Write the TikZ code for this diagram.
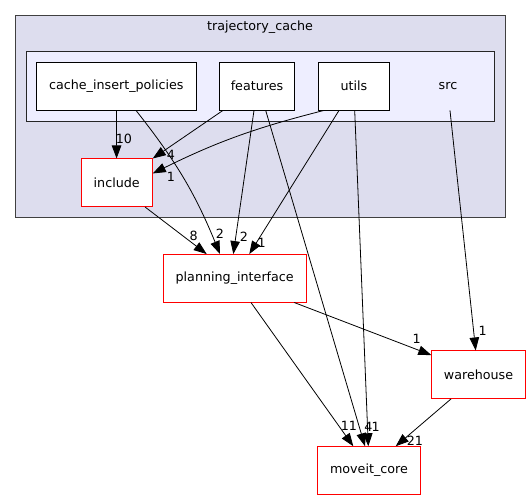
\documentclass[tikz,border=0pt]{standalone}
\usepackage{fontspec}
\setmainfont{DejaVu Sans}
\usetikzlibrary{arrows.meta,positioning}
\definecolor{clusterbg}{HTML}{DDDDEE}
\definecolor{srcbg}{HTML}{EEEEFF}

\begin{document}
\begin{tikzpicture}[x=1pt, y=-1pt, line width=0.8pt, >={Triangle[length=13pt,width=9.5pt]},
  dir node/.style={rectangle,draw=black,fill=white,minimum height=47.7pt,inner sep=0pt},
  ext node/.style={dir node,draw=red},
  num/.style={inner sep=0pt}]
\useasboundingbox (0,0) rectangle (531,500);
\begin{scope}[every node/.style={font=\fontsize{12.7}{15}\selectfont}]
% clusters
\draw[draw=black!75, fill=clusterbg] (15,15.7) rectangle (505.3,217);
\node (title) at (260,27) {trajectory\_cache};
\draw[draw=black!85, fill=srcbg] (26,51.7) rectangle (494.7,121.3);
\node[minimum height=47.7pt,minimum width=60pt] (src) at (448,86.2) {src};
% directories
\node[dir node,minimum width=159.3pt] (cip) at (116.3,86.2) {cache\_insert\_policies};
\node[dir node,minimum width=75.4pt] (features) at (257,86.2) {features};
\node[dir node,minimum width=71.4pt] (utils) at (354,86.2) {utils};
\node[ext node,minimum width=71.3pt] (include) at (116.7,182.7) {include};
\node[ext node,minimum width=142.7pt] (pi) at (234.7,278.3) {planning\_interface};
\node[ext node,minimum width=93.6pt] (wh) at (478.5,374.7) {warehouse};
\node[ext node,minimum width=102.6pt] (mc) at (369,470.5) {moveit\_core};
\end{scope}
\begin{scope}[every node/.style={num,font=\fontsize{12.7}{15}\selectfont}]
\draw[->] (cip) -- (include);
\node (n10) at (124,139) {10};
\draw[->] ([xshift=4pt]features.south west) -- (include.north east);
\node (n4a) at (171,154.7) {4};
\draw[->] ([xshift=6pt]utils.south west) to[bend right=6] ([yshift=-15pt]include.north east);
\node (n1a) at (170.8,177.2) {1};
\draw[->] ([xshift=19.7pt]cip.south) to[bend left=8] ([xshift=-14.7pt]pi.north);
\node (n2a) at (220,234) {2};
\draw[->] ([xshift=28.3pt]include.south) -- ([xshift=-28pt]pi.north);
\node (n8) at (193.7,235.7) {8};
\draw[->] ([xshift=-3pt]features.south) -- ([xshift=-1.4pt]pi.north);
\node (n2b) at (244,236.7) {2};
\draw[->] ([xshift=-15pt]utils.south) -- ([xshift=14.6pt]pi.north);
\node (n1b) at (261.7,242.7) {1};
\draw[->] ([xshift=8.7pt]features.south) -- ([xshift=-4pt]mc.north);
\node (n4b) at (368.3,426.5) {4};
\draw[->] ([xshift=0.7pt]utils.south) -- ([xshift=-0.7pt]mc.north);
\node (n1c) at (375.6,426.7) {1};
\draw[->] ([xshift=2pt]src.south) -- ([xshift=-2.8pt]wh.north);
\node (n1d) at (482.7,330.7) {1};
\draw[->] ([xshift=59.6pt]pi.south) -- ([yshift=-4.6pt]wh.north west);
\node (n1e) at (416.7,339) {1};
\draw[->] ([xshift=16.3pt]pi.south) -- ([xshift=-15.7pt]mc.north);
\node (n11) at (349,426) {11};
\draw[->] ([xshift=-27.5pt]wh.south) -- ([xshift=26.7pt]mc.north);
\node (n21) at (415,440.7) {21};
\end{scope}
\end{tikzpicture}
\end{document}
